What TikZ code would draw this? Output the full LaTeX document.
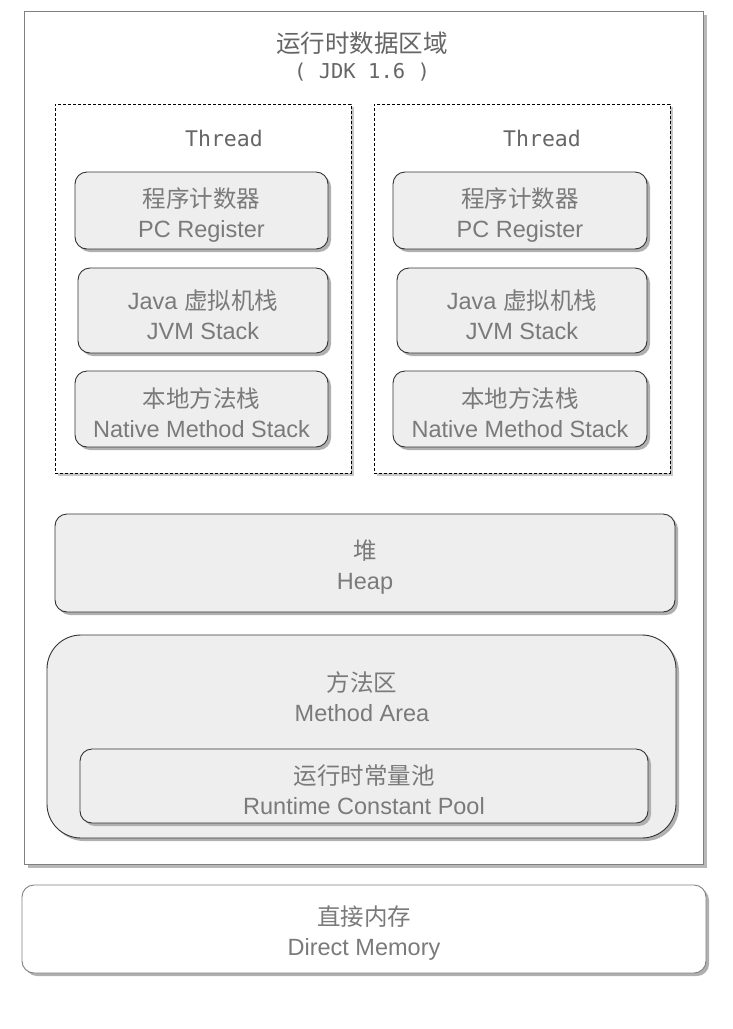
\documentclass[tikz,border=0pt]{standalone}
\usepackage{fontspec}
\setmainfont{Liberation Sans}
\setmonofont{DejaVu Sans Mono}
\newfontfamily\cjk{Noto Sans CJK SC}
\newcommand\tstrut{\rule{0pt}{28pt}}
\usetikzlibrary{shadows}
\definecolor{txt}{HTML}{7A7A7A}
\definecolor{ttl}{HTML}{666666}
\definecolor{boxfill}{HTML}{EEEEEE}
\definecolor{boxline}{HTML}{333333}
\definecolor{shd}{HTML}{B0B0B0}
\begin{document}
\begin{tikzpicture}[x=1pt,y=-1pt,
  lbl/.style={text=txt,font=\fontsize{23.5}{30}\selectfont,align=center,inner sep=0pt},
  membox/.style={draw=boxline,line width=0.9pt,fill=boxfill,rounded corners=12pt,
    drop shadow={shadow xshift=3pt,shadow yshift=-3pt,fill=shd,opacity=1},
    text=txt,font=\fontsize{23.5}{30}\selectfont,align=center,inner sep=0pt},
  threadbox/.style={draw=black,line width=0.8pt,dash pattern=on 3pt off 2pt,fill=white,
    drop shadow={shadow xshift=3pt,shadow yshift=-3pt,fill=shd!70,opacity=1}},
  monotxt/.style={text=ttl,font=\ttfamily\fontsize{20.5}{24}\selectfont,inner sep=0pt}]
\useasboundingbox (0,0) rectangle (733,1029);
% outer frame
\node[draw=gray,line width=0.9pt,fill=white,minimum width=679pt,minimum height=853pt,inner sep=0pt,
  drop shadow={shadow xshift=4pt,shadow yshift=-4pt,fill=shd!90,opacity=1}] (frame) at (363.5,437.5) {};
\node[text=ttl,font=\cjk\fontsize{24.5}{28}\selectfont,inner sep=0pt] (title) at (362,43) {运行时数据区域};
\node[monotxt] (jdk) at (362,72) {( JDK 1.6 )};
% thread boxes
\node[threadbox,minimum width=296pt,minimum height=369pt] (t1) at (203,288.5) {};
\node[threadbox,minimum width=296pt,minimum height=369pt] (t2) at (522,288.5) {};
\node[monotxt,font=\ttfamily\fontsize{21.5}{24}\selectfont] (th1) at (224,138) {Thread};
\node[monotxt,font=\ttfamily\fontsize{21.5}{24}\selectfont] (th2) at (542,138) {Thread};
% left thread
\node[membox,minimum width=253pt,minimum height=77pt] (pc1) at (201.5,210.5) {\tstrut{\cjk 程序计数器}\\PC Register};
\node[membox,minimum width=250pt,minimum height=85pt] (jvm1) at (203,310.5) {\tstrut Java {\cjk 虚拟机栈}\\JVM Stack};
\node[membox,minimum width=253pt,minimum height=76pt] (nat1) at (201.5,409) {\tstrut{\cjk 本地方法栈}\\Native Method Stack};
% right thread
\node[membox,minimum width=254pt,minimum height=77pt] (pc2) at (520,210.5) {\tstrut{\cjk 程序计数器}\\PC Register};
\node[membox,minimum width=250pt,minimum height=85pt] (jvm2) at (522,310.5) {\tstrut Java {\cjk 虚拟机栈}\\JVM Stack};
\node[membox,minimum width=254pt,minimum height=76pt] (nat2) at (520,409) {\tstrut{\cjk 本地方法栈}\\Native Method Stack};
% heap
\node[membox,minimum width=620pt,minimum height=98pt] (heap) at (365,563) {\tstrut{\cjk 堆}\\Heap};
% method area
\node[membox,rounded corners=34pt,minimum width=629pt,minimum height=203pt] (method) at (361.5,736.5) {};
\node[lbl] (mtxt) at (362,697) {{\cjk 方法区}\\Method Area};
\node[membox,minimum width=568pt,minimum height=74pt] (pool) at (364,786) {\tstrut{\cjk 运行时常量池}\\Runtime Constant Pool};
% direct memory
\node[membox,draw=gray,fill=white,minimum width=684pt,minimum height=88pt] (direct) at (364,929) {\tstrut{\cjk 直接内存}\\Direct Memory};
\end{tikzpicture}
\end{document}
